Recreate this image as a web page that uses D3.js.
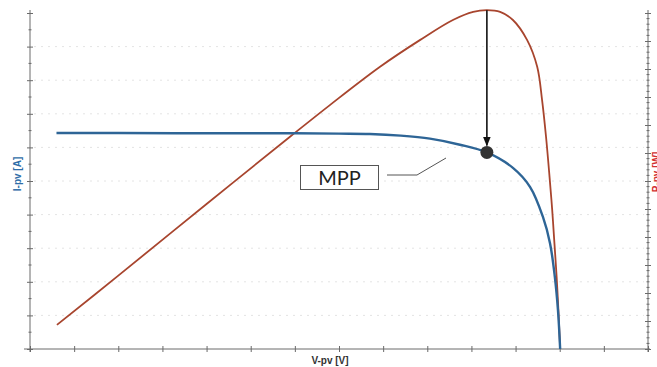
<!DOCTYPE html>
<html>
<head>
<meta charset="utf-8">
<script src="https://cdn.jsdelivr.net/npm/d3@7/dist/d3.min.js"></script>
<style>
  html, body { margin: 0; padding: 0; background: #fff; }
  svg { display: block; }
</style>
</head>
<body>
<script>
// I-V characteristic of the PV module
const ivVoltage = [0.6, 2, 4, 6, 7, 7.7, 8.4, 9.06, 9.74, 10.35, 10.94, 11.33, 11.62, 11.78, 11.89, 11.96, 12.01];
const ivCurrent = [6.43, 6.43, 6.42, 6.42, 6.41, 6.40, 6.35, 6.26, 6.08, 5.85, 5.39, 4.82, 3.93, 3.15, 2.14, 1.16, 0];

// P-V characteristic of the PV module
const pvVoltage = [0.61, 2, 4, 5.89, 6.80, 7.93, 8.84, 9.58, 10.04, 10.35, 10.65, 10.94, 11.26, 11.49, 11.60, 11.69, 11.77, 11.83, 11.88, 11.93, 11.97, 12.01];
const pvPower   = [4.3, 13.1, 25.9, 37.9, 43.6, 50.4, 55.2, 58.75, 60.2, 60.5, 60.2, 58.75, 55.2, 50.4, 44.5, 37.9, 30.7, 24.8, 18.9, 12.9, 7.0, 0];

// Maximum power point
const mppVoltage = 10.35;
const mppCurrent = 5.85;
const mppPower = 60.5;

// Axis tick values
const voltageTicks = d3.range(0, 15, 1);
const currentTicks = d3.range(0, 11, 1);
const currentMinorTicks = d3.range(0.5, 10, 1);
const powerTicks = d3.range(0, 61, 5);
const powerMinorTicks = d3.range(0, 61, 1).filter(d => d % 5 !== 0);

const W = 657, H = 367;
const svg = d3.select("body").append("svg").attr("width", W).attr("height", H);

const x = d3.scaleLinear().domain([0, 14]).range([30, 648]);
const yI = d3.scaleLinear().domain([0, 10]).range([349, 13]);
const yP = d3.scaleLinear().domain([0, 60]).range([349, 13]);

// faint horizontal guide lines
svg.append("g").selectAll("line").data(currentTicks.slice(1, 10)).join("line")
  .attr("x1", 34).attr("x2", 644)
  .attr("y1", d => yI(d)).attr("y2", d => yI(d))
  .attr("stroke", "#e4e4e4").attr("stroke-width", 1)
  .attr("stroke-dasharray", "2,5");

const axisColor = "#6a6a6a";
function styleAxis(g) {
  g.select(".domain").remove();
  g.selectAll("text").remove();
  g.selectAll("line").attr("stroke", axisColor);
}

// bottom axis
const gx = svg.append("g").attr("transform", `translate(0,${yI(0)})`)
  .call(d3.axisBottom(x).tickValues(voltageTicks).tickSize(3));
styleAxis(gx);
gx.selectAll(".tick line").attr("y1", -3).attr("y2", 3);
gx.append("line").attr("x1", 24).attr("x2", 650).attr("stroke", axisColor);

// left axis (current)
const gl = svg.append("g").attr("transform", `translate(${x(0)},0)`)
  .call(d3.axisLeft(yI).tickValues(currentTicks).tickSize(3));
styleAxis(gl);
gl.selectAll(".tick line").attr("x1", -3).attr("x2", 3);
gl.append("g").selectAll("line").data(currentMinorTicks).join("line")
  .attr("x1", -1.5).attr("x2", 1.5)
  .attr("y1", d => yI(d)).attr("y2", d => yI(d)).attr("stroke", axisColor);
gl.append("line").attr("y1", 10).attr("y2", 352).attr("stroke", axisColor);

// right axis (power)
const gr = svg.append("g").attr("transform", `translate(648,0)`)
  .call(d3.axisRight(yP).tickValues(powerTicks).tickSize(3));
styleAxis(gr);
gr.selectAll(".tick line").attr("x1", -3).attr("x2", 3);
gr.append("g").selectAll("line").data(powerMinorTicks).join("line")
  .attr("x1", -1.5).attr("x2", 1.5)
  .attr("y1", d => yP(d)).attr("y2", d => yP(d)).attr("stroke", axisColor);
gr.append("line").attr("y1", 10).attr("y2", 352).attr("stroke", axisColor);

// curves
const ivData = ivVoltage.map((v, i) => [v, ivCurrent[i]]);
const pvData = pvVoltage.map((v, i) => [v, pvPower[i]]);
const smooth = d3.curveCatmullRom.alpha(0.5);

svg.append("path").datum(pvData)
  .attr("fill", "none").attr("stroke", "#a8452e").attr("stroke-width", 1.8)
  .attr("stroke-linejoin", "round")
  .attr("d", d3.line().x(d => x(d[0])).y(d => yP(d[1])).curve(smooth));

svg.append("path").datum(ivData)
  .attr("fill", "none").attr("stroke", "#2e6596").attr("stroke-width", 2.4)
  .attr("stroke-linejoin", "round")
  .attr("d", d3.line().x(d => x(d[0])).y(d => yI(d[1])).curve(smooth));

// arrow from power peak down to the MPP
const defs = svg.append("defs");
defs.append("marker").attr("id", "arrow")
  .attr("viewBox", "0 0 10 10").attr("refX", 9).attr("refY", 5)
  .attr("markerWidth", 6).attr("markerHeight", 6).attr("orient", "auto")
  .append("path").attr("d", "M0,1 L10,5 L0,9 Z").attr("fill", "#111");

svg.append("line")
  .attr("x1", x(mppVoltage)).attr("x2", x(mppVoltage))
  .attr("y1", yP(mppPower)).attr("y2", yI(mppCurrent) - 7)
  .attr("stroke", "#111").attr("stroke-width", 1.6)
  .attr("marker-end", "url(#arrow)");

svg.append("circle")
  .attr("cx", x(mppVoltage)).attr("cy", yI(mppCurrent)).attr("r", 6.5)
  .attr("fill", "#333");

// MPP callout
svg.append("polyline")
  .attr("points", "387,175 417,175 446,158")
  .attr("fill", "none").attr("stroke", "#555").attr("stroke-width", 1);
svg.append("rect")
  .attr("x", 300.5).attr("y", 165.5).attr("width", 78).attr("height", 24)
  .attr("fill", "#fff").attr("stroke", "#555").attr("stroke-width", 1);
svg.append("text")
  .attr("x", 339.5).attr("y", 185)
  .attr("text-anchor", "middle")
  .attr("font-family", "Lato, 'DejaVu Sans', sans-serif")
  .attr("font-size", 20).attr("fill", "#222")
  .text("MPP");

// axis titles
svg.append("text")
  .attr("transform", "translate(21,174) rotate(-90)")
  .attr("text-anchor", "middle")
  .attr("font-family", "'Liberation Sans', Arial, sans-serif")
  .attr("font-weight", "bold").attr("font-size", 10).attr("fill", "#2f6ea8")
  .text("I-pv [A]");

svg.append("text")
  .attr("transform", "translate(660,172) rotate(-90)")
  .attr("text-anchor", "middle")
  .attr("font-family", "'Liberation Sans', Arial, sans-serif")
  .attr("font-weight", "bold").attr("font-size", 10).attr("fill", "#d23030")
  .text("P-pv [W]");

svg.append("text")
  .attr("x", 330).attr("y", 364)
  .attr("text-anchor", "middle")
  .attr("font-family", "'Liberation Sans', Arial, sans-serif")
  .attr("font-weight", "bold").attr("font-size", 10).attr("fill", "#333")
  .text("V-pv [V]");
</script>
</body>
</html>
